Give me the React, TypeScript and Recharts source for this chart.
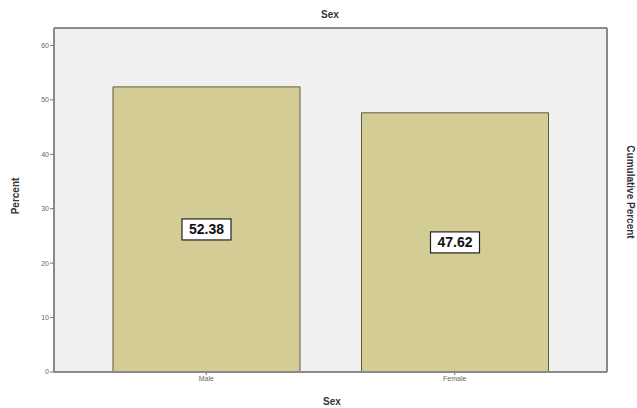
import React from "react";
import {
  BarChart,
  Bar,
  XAxis,
  YAxis,
  CartesianGrid,
  LabelList,
  ReferenceLine,
} from "recharts";

const categories = ["Male", "Female"];
const percentValues = [52.38, 47.62];
const yTicks = [0, 10, 20, 30, 40, 50, 60];
const yMax = 63.2;

const data = categories.map((c, i) => ({ sex: c, percent: percentValues[i] }));

const BoxLabel = (props: any) => {
  const { x, y, width, height, value } = props;
  const cx = x + width / 2;
  const cy = y + height / 2;
  const w = 49;
  const h = 21;
  return (
    <g>
      <rect
        x={cx - w / 2}
        y={cy - h / 2}
        width={w}
        height={h}
        fill="#ffffff"
        stroke="#222222"
        strokeWidth={1.2}
      />
      <text
        x={cx}
        y={cy + 5}
        textAnchor="middle"
        fontFamily="Liberation Sans, Arial, sans-serif"
        fontWeight="bold"
        fontSize={14}
        fill="#111111"
      >
        {Number(value).toFixed(2)}
      </text>
    </g>
  );
};

const tickStyle = {
  fontSize: 7,
  fill: "#666666",
  stroke: "none",
  fontFamily: "Liberation Sans, Arial, sans-serif",
};

export default function App() {
  return (
    <div
      style={{
        position: "absolute",
        left: 0,
        top: 0,
        width: 637,
        height: 408,
        background: "#ffffff",
        overflow: "hidden",
      }}
    >
      <BarChart
        width={637}
        height={408}
        data={data}
        margin={{ top: 28, right: 0, bottom: 0, left: 0 }}
        barSize={187}
      >
        <CartesianGrid fill="#F0F0F0" horizontal={false} vertical={false} />
        <XAxis
          dataKey="sex"
          height={36}
          padding={{ left: 28, right: 28 }}
          stroke="#8a8a8a"
          axisLine={{ stroke: "#8a8a8a", strokeWidth: 2 }}
          tickLine={{ stroke: "#777777" }}
          tickSize={3}
          tick={tickStyle}
          tickMargin={1}
          interval={0}
        />
        <YAxis
          yAxisId="left"
          width={54}
          domain={[0, yMax]}
          ticks={yTicks}
          interval={0}
          stroke="#8a8a8a"
          axisLine={{ stroke: "#8a8a8a", strokeWidth: 2 }}
          tickLine={{ stroke: "#777777" }}
          tickSize={4}
          tickMargin={1}
          tick={tickStyle}
        />
        <YAxis
          yAxisId="right"
          orientation="right"
          width={30}
          domain={[0, yMax]}
          ticks={yTicks}
          interval={0}
          stroke="#8a8a8a"
          axisLine={{ stroke: "#8a8a8a", strokeWidth: 2 }}
          tickLine={{ stroke: "#777777" }}
          tickSize={4}
          tickMargin={2}
          tick={tickStyle}
        />
        <ReferenceLine
          yAxisId="left"
          y={yMax}
          stroke="#8a8a8a"
          strokeWidth={2}
          ifOverflow="extendDomain"
        />
        <Bar
          yAxisId="left"
          dataKey="percent"
          fill="#D3CD95"
          stroke="#5e5c3c"
          strokeWidth={1}
          isAnimationActive={false}
        >
          <LabelList dataKey="percent" content={<BoxLabel />} />
        </Bar>
        <text
          x={330}
          y={18}
          textAnchor="middle"
          fontFamily="Liberation Sans, Arial, sans-serif"
          fontWeight="bold"
          fontSize={10}
          fill="#333333"
        >
          Sex
        </text>
        <text
          x={332}
          y={405}
          textAnchor="middle"
          fontFamily="Liberation Sans, Arial, sans-serif"
          fontWeight="bold"
          fontSize={10}
          fill="#333333"
        >
          Sex
        </text>
        <text
          x={19}
          y={196}
          textAnchor="middle"
          transform="rotate(-90 19 196)"
          fontFamily="Liberation Sans, Arial, sans-serif"
          fontWeight="bold"
          fontSize={10}
          fill="#333333"
        >
          Percent
        </text>
        <text
          x={630}
          y={192}
          textAnchor="middle"
          dominantBaseline="central"
          transform="rotate(90 630 192)"
          fontFamily="Liberation Sans, Arial, sans-serif"
          fontWeight="bold"
          fontSize={10}
          fill="#333333"
        >
          Cumulative Percent
        </text>
      </BarChart>
    </div>
  );
}
